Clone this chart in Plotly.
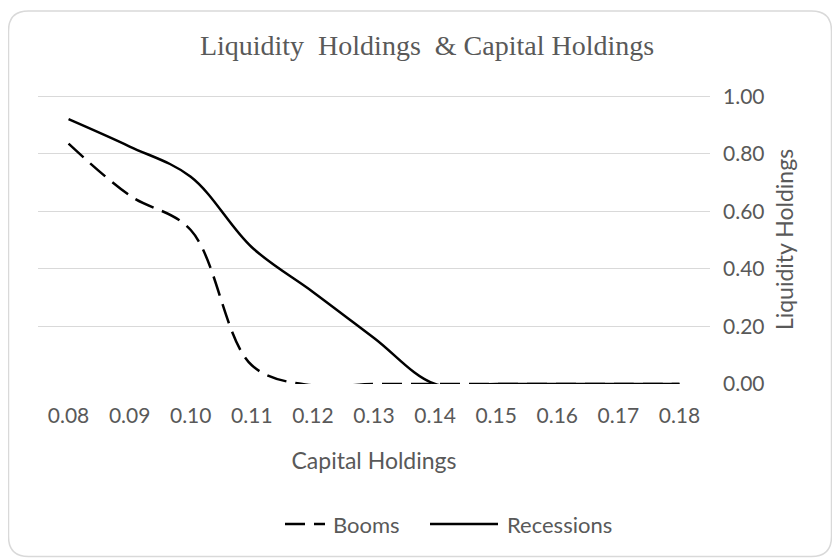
import plotly.graph_objects as go

# ---- data ----
capital = ["0.08", "0.09", "0.10", "0.11", "0.12", "0.13", "0.14", "0.15", "0.16", "0.17", "0.18"]
booms = [0.835, 0.655, 0.535, 0.065, -0.005, 0.0, 0.0, 0.0, 0.0, 0.0, 0.0]
recessions = [0.92, 0.825, 0.72, 0.475, 0.32, 0.16, 0.0, 0.0, 0.0, 0.0, 0.0]
y_ticks = [0.0, 0.2, 0.4, 0.6, 0.8, 1.0]
series_names = ["Booms", "Recessions"]

# ---- layout geometry (pixels, figure coords; page body adds 8px offset) ----
OFF = 8
W, H = 840 - OFF, 559 - OFF
L, R, T, B = 38 - OFF, 710 - OFF, 95 - OFF, 384 - OFF  # plot area
YMAX = 1.004


def px(x):
    return (x - L) / (R - L)


def py(y):
    return (B - y) / (B - T)


GREY = "#595959"
FONT = "Lato"
FS = 21
FT = 23

fig = go.Figure()
fig.add_trace(go.Scatter(
    x=capital, y=booms, name=series_names[0], mode="lines", showlegend=False,
    line=dict(color="black", width=2.5, dash="20px,9px", shape="spline", smoothing=1.0),
))
fig.add_trace(go.Scatter(
    x=capital, y=recessions, name=series_names[1], mode="lines", showlegend=False,
    line=dict(color="black", width=2.5, shape="spline", smoothing=1.0),
))

# rounded chart border
x0, x1, y0, y1, r = 0.5, 823.5, 3, 548.5, 20
path = (
    f"M {px(x0 + r)},{py(y0)} L {px(x1 - r)},{py(y0)} "
    f"Q {px(x1)},{py(y0)} {px(x1)},{py(y0 + r)} "
    f"L {px(x1)},{py(y1 - r)} Q {px(x1)},{py(y1)} {px(x1 - r)},{py(y1)} "
    f"L {px(x0 + r)},{py(y1)} Q {px(x0)},{py(y1)} {px(x0)},{py(y1 - r)} "
    f"L {px(x0)},{py(y0 + r)} Q {px(x0)},{py(y0)} {px(x0 + r)},{py(y0)} Z"
)
fig.add_shape(type="path", path=path, xref="paper", yref="paper",
              line=dict(color="#d9d9d9", width=1.5), layer="below")

# custom legend
ly = 524 - OFF
fig.add_shape(type="line", xref="paper", yref="paper",
              x0=px(285 - OFF), x1=px(325 - OFF), y0=py(ly), y1=py(ly),
              line=dict(color="black", width=2.5, dash="20px,9px"))
fig.add_shape(type="line", xref="paper", yref="paper",
              x0=px(430 - OFF), x1=px(498 - OFF), y0=py(ly), y1=py(ly),
              line=dict(color="black", width=2.5))
for name, xx in zip(series_names, [331 - OFF, 505 - OFF]):
    fig.add_annotation(text=name, xref="paper", yref="paper", x=px(xx), y=py(ly),
                       xanchor="left", yanchor="middle", showarrow=False,
                       font=dict(family=FONT, size=FS + 1, color=GREY))

fig.update_layout(
    width=W, height=H,
    margin=dict(l=L, r=W - R, t=T, b=H - B, pad=0),
    paper_bgcolor="white", plot_bgcolor="white",
    title=dict(text="Liquidity  Holdings  &amp; Capital Holdings",
               font=dict(family="Liberation Serif", size=28, color=GREY),
               x=(427 - OFF) / W, xanchor="center", y=1 - (45 - OFF) / H, yanchor="middle"),
    showlegend=False,
    xaxis=dict(type="category", range=[-0.5, 10.5], showgrid=False, zeroline=False,
               showline=False, ticks="",
               tickfont=dict(family=FONT, size=FS, color=GREY),
               ticklabelstandoff=17,
               title=dict(text="Capital Holdings", font=dict(family=FONT, size=FT, color=GREY),
                          standoff=26)),
    yaxis=dict(side="right", range=[0, YMAX], tickvals=y_ticks, tickformat=".2f",
               showgrid=True, gridcolor="#d9d9d9", gridwidth=1.3, zeroline=False,
               showline=False, ticks="",
               tickfont=dict(family=FONT, size=FS, color=GREY),
               ticklabelstandoff=12,
               title=dict(text="Liquidity Holdings", font=dict(family=FONT, size=FT, color=GREY),
                          standoff=13)),
)

fig.write_html("out.html")
